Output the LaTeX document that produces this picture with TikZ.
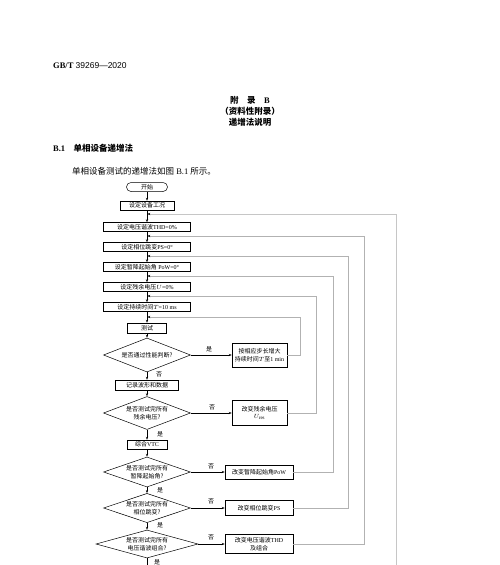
\documentclass[tikz,border=0pt]{standalone}
\usepackage{fontspec}
\setmainfont{Liberation Serif}
\setsansfont{Liberation Sans}
\newfontfamily\zhfont{Noto Sans CJK SC}
\newcommand\zh[1]{{\zhfont #1}}
\usetikzlibrary{shapes.geometric,arrows.meta}
\begin{document}
\begin{tikzpicture}[x=1pt,y=-1pt,
  every node/.style={font=\fontsize{6}{7.5}\selectfont, inner sep=0pt},
  pbox/.style={draw, line width=0.5pt, minimum height=9pt, align=center},
  dbox/.style={draw, diamond, aspect=2.6, align=center, line width=0.5pt},
  arr/.style={-{Stealth[length=3pt,width=2.2pt]}, line width=0.5pt},
  fb/.style={draw=gray!60, line width=0.7pt, -{Stealth[length=3pt,width=2.2pt,black]}},
  lbl/.style={font=\fontsize{6}{7}\selectfont\zhfont},
  hdr/.style={font=\fontsize{8.5}{10}\selectfont}
]
\fill[white] (0,0) rectangle (500,565);
\useasboundingbox (0,0) rectangle (500,565);

% header
\node[hdr, anchor=base west] (h1) at (53,68) {\textbf{GB/T} \sffamily 39269—2020};
\node[hdr, anchor=base] (h2) at (250,103) {\zhfont\bfseries 附\quad 录\quad \rmfamily\bfseries B};
\node[hdr, anchor=base] (h3) at (250,114) {\zhfont\bfseries （资料性附录）};
\node[hdr, anchor=base] (h4) at (250,125) {\zhfont\bfseries 递增法说明};
\node[hdr, anchor=base west] (h5) at (53,151) {\textbf{B.1}\quad\zh{\bfseries 单相设备递增法}};
\node[hdr, anchor=base west] (h6) at (72,174) {\zh{单相设备测试的递增法如图} B.1 \zh{所示。}};

% main column
\node[draw, line width=0.5pt, rounded corners=4.5pt, minimum width=41pt, minimum height=9pt] (s0) at (147,187) {\zh{开始}};
\node[pbox, minimum width=54pt] (b1) at (147,205.5) {\zh{设定设备工况}};
\node[pbox, minimum width=87pt] (b2) at (147,227) {\zh{设定电压谐波}THD=0\%};
\node[pbox, minimum width=87pt] (b3) at (147,247) {\zh{设定相位跳变}PS=0°};
\node[pbox, minimum width=87pt] (b4) at (147,267) {\zh{设定暂降起始角} PoW=0°};
\node[pbox, minimum width=87pt] (b5) at (147,287) {\zh{设定残余电压}$U$=0\%};
\node[pbox, minimum width=87pt] (b6) at (147,307) {\zh{设定持续时间}$T$=10 ms};
\node[pbox, minimum width=39pt, minimum height=10pt] (b7) at (147,328) {\zh{测试}};
\node[dbox, minimum width=87pt, minimum height=34pt] (d1) at (147,355) {\zh{是否通过性能判断?}};
\node[pbox, minimum width=63pt, minimum height=10pt] (b8) at (147,385) {\zh{记录波形和数据}};
\node[dbox, minimum width=87pt, minimum height=33pt] (d2) at (147,413) {\zh{是否测试完所有}\\\zh{残余电压?}};
\node[pbox, minimum width=40pt] (b9) at (147,444.5) {\zh{综合}VTC};
\node[dbox, minimum width=87pt, minimum height=30pt] (d3) at (147,472) {\zh{是否测试完所有}\\\zh{暂降起始角?}};
\node[dbox, minimum width=87pt, minimum height=28pt] (d4) at (147,508) {\zh{是否测试完所有}\\\zh{相位跳变?}};
\node[dbox, aspect=3.6, minimum width=102pt, minimum height=28pt] (d5) at (147,544) {\zh{是否测试完所有}\\\zh{电压谐波组合?}};

% right column
\node[pbox, minimum width=55pt, minimum height=24pt] (r1) at (259.5,355) {\zh{按相应步长增大}\\\zh{持续时间}$T$\zh{至}1 min};
\node[pbox, minimum width=55pt, minimum height=25pt] (r2) at (259.5,413) {\zh{改变残余电压}\\$U_{\mathrm{res}}$};
\node[pbox, minimum width=68pt, minimum height=14pt] (r3) at (259,472) {\zh{改变暂降起始角}PoW};
\node[pbox, minimum width=68pt, minimum height=15pt] (r4) at (259,508) {\zh{改变相位跳变}PS};
\node[pbox, minimum width=68pt, minimum height=19pt] (r5) at (259,544) {\zh{改变电压谐波}THD\\\zh{及组合}};

% labels
\node[lbl] (l1) at (209,349) {是};
\node[lbl] (l2) at (159,374) {否};
\node[lbl] (l3) at (212,407) {否};
\node[lbl] (l4) at (160,434) {是};
\node[lbl] (l5) at (211,466) {否};
\node[lbl] (l6) at (160,490) {是};
\node[lbl] (l7) at (211,501) {否};
\node[lbl] (l8) at (160,525) {是};
\node[lbl] (l9) at (211,537) {否};
\node[lbl] (l10) at (157,562) {是};

% main arrows
\draw[arr] (s0) -- (b1);
\draw[arr] (b1) -- (b2);
\draw[arr] (b2) -- (b3);
\draw[arr] (b3) -- (b4);
\draw[arr] (b4) -- (b5);
\draw[arr] (b5) -- (b6);
\draw[arr] (b6) -- (b7);
\draw[arr] (b7) -- (d1);
\draw[arr] (d1) -- (b8);
\draw[arr] (b8) -- (d2);
\draw[arr] (d2) -- (b9);
\draw[arr] (b9) -- (d3);
\draw[arr] (d3) -- (d4);
\draw[arr] (d4) -- (d5);
\coordinate (endpt) at (147,565);
\draw[line width=0.5pt] (d5.south) -- (endpt);

\draw[arr] (d1.east) -- (r1.west);
\draw[arr] (d2.east) -- (r2.west);
\draw[arr] (d3.east) -- (r3.west);
\draw[arr] (d4.east) -- (r4.west);
\draw[arr] (d5.east) -- (r5.west);

% feedback
\coordinate (j1) at (147.3,214);
\coordinate (j2) at (147.3,236);
\coordinate (j3) at (147.3,256);
\coordinate (j4) at (147.3,276);
\coordinate (j5) at (147.3,296);
\coordinate (j6) at (147.3,317);
\coordinate (k1) at (396,565);
\coordinate (k2) at (364,236);
\coordinate (k3) at (348,256);
\coordinate (k4) at (333,276);
\coordinate (k5) at (316,296);
\coordinate (k6) at (300,317);
\draw[fb] (r1.east) -| (k6) -- (j6);
\draw[fb] (r2.east) -| (k5) -- (j5);
\draw[fb] (r3.east) -| (k4) -- (j4);
\draw[fb] (r4.east) -| (k3) -- (j3);
\draw[fb] (r5.east) -| (k2) -- (j2);
\draw[fb, line width=1pt, draw=gray!45] (k1) |- (j1);
\end{tikzpicture}
\end{document}
